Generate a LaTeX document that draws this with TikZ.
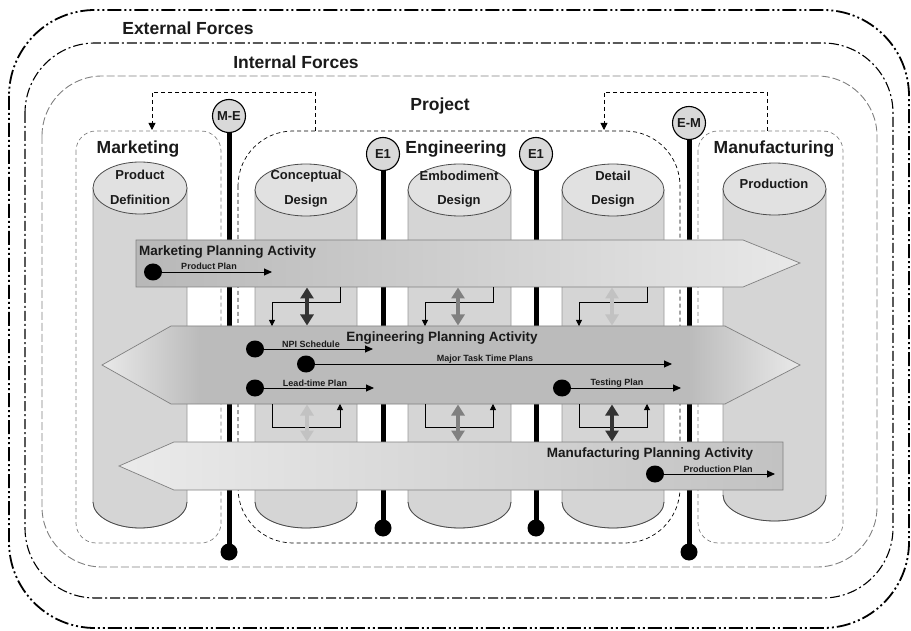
\documentclass[tikz,border=0pt]{standalone}
\usepackage{fontspec}
\setmainfont{Liberation Sans}
\usetikzlibrary{arrows.meta}
\definecolor{cyl}{HTML}{D5D5D5}
\definecolor{cyltop}{HTML}{E1E1E1}
\definecolor{epl}{HTML}{E9E9E9}
\definecolor{epm}{HTML}{BBBBBB}
\definecolor{dk}{HTML}{333333}
\definecolor{md}{HTML}{808080}
\definecolor{lt}{HTML}{C2C2C2}
\definecolor{txt}{HTML}{1A1A1A}
\pgfdeclarehorizontalshading{epashade}{100bp}{color(0bp)=(epl); color(25bp)=(epl); color(32bp)=(epm); color(67bp)=(epm); color(75bp)=(epl); color(100bp)=(epl)}
\newcommand\cylshape[5]{%
  \filldraw[fill=cyl, draw=gray!80, line width=0.7pt] (#1-#2,#3) -- (#1-#2,#4) arc[start angle=180,end angle=0,x radius=#2,y radius=#5] -- (#1+#2,#3) -- cycle;
  \draw[draw=black!70, line width=0.8pt] (#1-#2,#4) arc[start angle=180,end angle=0,x radius=#2,y radius=#5];
  \filldraw[fill=cyltop, draw=black!70, line width=0.8pt] (#1,#3) ellipse[x radius=#2, y radius=#5];
}
\begin{document}
\begin{tikzpicture}[x=1pt,y=-1pt,
  big/.style={font=\bfseries\fontsize{17.5}{20}\selectfont, text=txt, inner sep=0pt},
  cyltxt/.style={font=\bfseries\fontsize{13}{15}\selectfont, text=txt, inner sep=0pt},
  acttxt/.style={font=\bfseries\fontsize{13.5}{16}\selectfont, text=txt, inner sep=0pt},
  small/.style={font=\bfseries\fontsize{9}{10}\selectfont, text=txt, inner sep=0pt},
  milestone/.style={circle, draw, line width=1.1pt, fill=black!15, minimum size=33pt, inner sep=0pt, font=\bfseries\fontsize{13}{15}\selectfont, text=txt},
  bar/.style={line width=5pt},
  enddot/.style={fill=black},
  planarrow/.style={line width=0.9pt, -{Triangle[length=8pt,width=7pt]}},
  bracket/.style={line width=0.8pt, -{Triangle[length=6pt,width=6pt]}},
  dbl/.style={line width=4.5pt, {Triangle[length=11pt,width=13pt]}-{Triangle[length=11pt,width=13pt]}},
  fb/.style={line width=0.8pt, dash pattern=on 4pt off 3pt, -{Triangle[length=7pt,width=7pt]}},
]
\useasboundingbox (0,0) rectangle (911,631);
% boundaries
\draw[line width=1.8pt, dash pattern=on 14pt off 3pt on 2pt off 3pt on 2pt off 3pt, rounded corners=86pt] (9,10) rectangle (909,628);
\draw[line width=1.1pt, dash pattern=on 10pt off 3pt on 2pt off 3pt, rounded corners=70pt] (25,43) rectangle (893,598);
\draw[line width=0.9pt, draw=gray, dash pattern=on 8pt off 3pt, rounded corners=60pt] (42,76) rectangle (877,567);
\node[big] (ext) at (188,28) {External Forces};
\node[big] (int) at (296,62) {Internal Forces};
\node[big] (proj) at (440,106) {Project};
% department boxes
\draw[line width=0.7pt, draw=gray, dash pattern=on 4pt off 3pt, rounded corners=20pt] (76,131) rectangle (221,543);
\draw[line width=0.7pt, draw=black, dash pattern=on 4pt off 3pt, rounded corners=55pt] (238,131) rectangle (680,543);
\draw[line width=0.7pt, draw=gray, dash pattern=on 4pt off 3pt, rounded corners=20pt] (698,131) rectangle (843,543);
\node[big] (mkt) at (138,149) {Marketing};
\node[big] (eng) at (456,149) {Engineering};
\node[big] (mfg) at (774,149) {Manufacturing};
% feedback arrows
\coordinate (fbls) at (315,131); \coordinate (fble) at (152,130);
\coordinate (fbrs) at (767,131); \coordinate (fbre) at (604,130);
\draw[fb] (fbls) -- (315,92) -| (fble);
\draw[fb] (fbrs) -- (767,92) -| (fbre);
% cylinders
\cylshape{140}{47}{188}{502}{26}
\cylshape{306}{51}{190}{502}{26}
\cylshape{459.5}{51.5}{190}{502}{26}
\cylshape{613}{51}{190}{502}{26}
\cylshape{774.5}{51.5}{189}{495}{26}
\node[cyltxt] (pd1) at (140,175) {Product};
\node[cyltxt] (pd2) at (140,200) {Definition};
\node[cyltxt] (cd1) at (306,176) {Conceptual};
\node[cyltxt] (cd2) at (306,201) {Design};
\node[cyltxt] (ed1) at (459,176) {Embodiment};
\node[cyltxt] (ed2) at (459,201) {Design};
\node[cyltxt] (dd1) at (613,176) {Detail};
\node[cyltxt] (dd2) at (613,201) {Design};
\node[cyltxt] (pr1) at (774,184) {Production};
% milestone bars
\node[milestone] (ME) at (229,116) {M-E};
\node[milestone] (E1a) at (383,154) {E1};
\node[milestone] (E1b) at (536,154) {E1};
\node[milestone] (EM) at (689,123) {E-M};
\coordinate (MEb) at (229,552);
\coordinate (E1ab) at (383,528);
\coordinate (E1bb) at (536,528);
\coordinate (EMb) at (689,552);
\draw[bar] (ME.south) -- (MEb);
\draw[bar] (E1a.south) -- (E1ab);
\draw[bar] (E1b.south) -- (E1bb);
\draw[bar] (EM.south) -- (EMb);
\fill[enddot] (MEb) circle (8.5);
\fill[enddot] (E1ab) circle (8.5);
\fill[enddot] (E1bb) circle (8.5);
\fill[enddot] (EMb) circle (8.5);
% Marketing planning activity
\shade[left color=black!28, right color=black!9, draw=gray, line width=0.7pt] (136,240) -- (743,240) -- (800,263) -- (743,287) -- (136,287) -- cycle;
\node[acttxt, anchor=west] (mpa) at (139,252) {Marketing Planning Activity};
\coordinate (pp0) at (153,272); \coordinate (pp1) at (272,272);
\draw[planarrow] (pp0) -- (pp1);
\fill (pp0) ellipse[x radius=9, y radius=8.5];
\node[small] (ppl) at (209,266) {Product Plan};
% Engineering planning activity
\shade[shading=epashade, draw=gray, line width=0.7pt] (171,326) -- (725,326) -- (800,365) -- (725,404) -- (171,404) -- (102,365) -- cycle;
\node[acttxt] (epa) at (442,338) {Engineering Planning Activity};
\coordinate (npi0) at (255,349); \coordinate (npi1) at (373,349);
\coordinate (mt0) at (306,364); \coordinate (mt1) at (672,364);
\coordinate (lt0) at (255,388); \coordinate (lt1) at (374,388);
\coordinate (tp0) at (562,388); \coordinate (tp1) at (681,388);
\draw[planarrow] (npi0) -- (npi1);
\draw[planarrow] (mt0) -- (mt1);
\draw[planarrow] (lt0) -- (lt1);
\draw[planarrow] (tp0) -- (tp1);
\foreach \p in {npi0,mt0,lt0,tp0} \fill (\p) ellipse[x radius=9, y radius=8.5];
\node[small] (npil) at (311,344) {NPI Schedule};
\node[small] (mtl) at (485,359) {Major Task Time Plans};
\node[small] (ltl) at (315,383) {Lead-time Plan};
\node[small] (tpl) at (617,383) {Testing Plan};
% Manufacturing planning activity
\shade[left color=black!8, right color=black!24, draw=gray, line width=0.7pt] (174,442) -- (783,442) -- (783,490) -- (174,490) -- (119,466) -- cycle;
\node[acttxt] (mfpa) at (650,454) {Manufacturing Planning Activity};
\coordinate (prp0) at (655,474); \coordinate (prp1) at (775,474);
\draw[planarrow] (prp0) -- (prp1);
\fill (prp0) ellipse[x radius=9, y radius=8.5];
\node[small] (prpl) at (718,469) {Production Plan};
% brackets and exchange arrows
\foreach \l/\r/\m/\cu/\cl in {272/340/307/dk/lt, 425/493/458/md/md, 579/647/612/lt/dk} {
  \draw[bracket] (\r,287) -- (\r,302) -- (\l,302) -- (\l,326);
  \draw[dbl, draw=\cu] (\m,287.5) -- (\m,325.5);
  \draw[bracket] (\l,404) -- (\l,427) -- (\r,427) -- (\r,404);
  \draw[dbl, draw=\cl] (\m,404.5) -- (\m,441.5);
}
\end{tikzpicture}
\end{document}
